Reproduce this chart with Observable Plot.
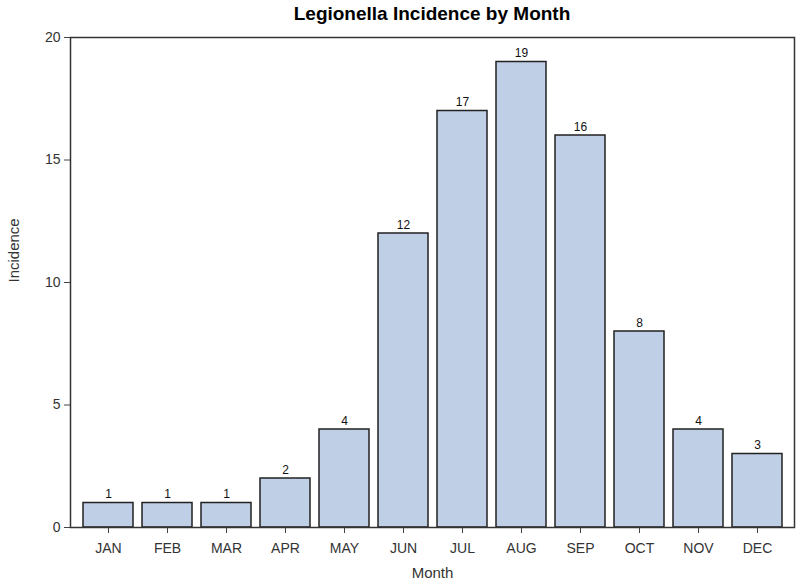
<!DOCTYPE html>
<html>
<head>
<meta charset="utf-8">
<script src="https://cdn.jsdelivr.net/npm/d3@7"></script>
<script src="https://cdn.jsdelivr.net/npm/@observablehq/plot@0.6"></script>
<style>
  body { margin: 0; background: #fff; font-family: "Liberation Sans", Arial, sans-serif; }
  #title { height: 28px; line-height: 28px; font-weight: bold; font-size: 19px; color: #000;
           padding-left: 70px; padding-right: 6px; text-align: center; box-sizing: border-box; width: 800px; }
</style>
</head>
<body>
<div id="title">Legionella Incidence by Month</div>
<div id="chart"></div>
<script>
const months = ["JAN","FEB","MAR","APR","MAY","JUN","JUL","AUG","SEP","OCT","NOV","DEC"];
const incidence = [1, 1, 1, 2, 4, 12, 17, 19, 16, 8, 4, 3];
const yTicks = [0, 5, 10, 15, 20];

const data = months.map((m, i) => ({month: m, value: incidence[i]}));

const chart = Plot.plot({
  width: 800,
  height: 559,
  marginTop: 9,
  marginBottom: 60,
  marginLeft: 70,
  marginRight: 6,
  style: {fontFamily: "'Liberation Sans', Arial, sans-serif", fontSize: "14px", color: "#333", background: "#fff"},
  x: {domain: months, paddingInner: 0.154, paddingOuter: 0.2, label: null},
  y: {domain: [0, 20], label: null},
  marks: [
    Plot.barY(data, {x: "month", y: "value", fill: "#bfcfe6", stroke: "#222", strokeWidth: 1.5}),
    Plot.text(data, {x: "month", y: "value", text: d => String(d.value), lineAnchor: "bottom", dy: -5, fontSize: 12, fill: "#111"}),
    Plot.axisY(yTicks, {tickSize: 6, tickPadding: 4, stroke: "#444", fill: "#333", fontSize: 14,
      label: null}),
    Plot.axisX({tickSize: 6, tickPadding: 10, stroke: "#444", fill: "#333", fontSize: 14, label: null}),
    Plot.text(["Incidence"], {frameAnchor: "left", dx: -56, rotate: -90, fontSize: 15, fill: "#333"}),
    Plot.text(["Month"], {frameAnchor: "bottom", dy: 50, fontSize: 15, fill: "#333"}),
    Plot.frame({stroke: "#333", strokeWidth: 1.5})
  ]
});
document.getElementById("chart").appendChild(chart);
</script>
</body>
</html>
